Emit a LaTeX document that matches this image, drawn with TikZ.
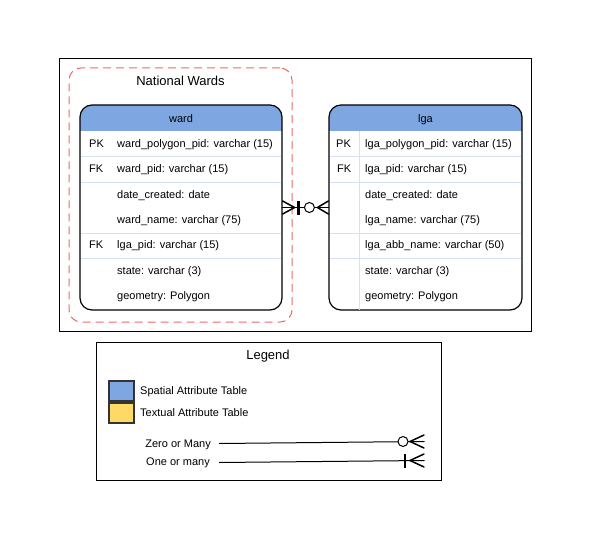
\documentclass[tikz,border=0pt]{standalone}
\usepackage{fontspec}
\setmainfont{Liberation Sans}
\usetikzlibrary{calc}
\definecolor{hdr}{HTML}{7EA6E0}
\definecolor{yel}{HTML}{FFD966}
\definecolor{grp}{HTML}{EA6B66}
\definecolor{sepc}{HTML}{D4E1F5}
\begin{document}
\begin{tikzpicture}[x=1pt,y=-1pt,
  font=\fontsize{11}{13}\selectfont,
  tbl/.style={draw=black, line width=1.2pt, fill=white, rounded corners=12pt, inner sep=0pt, minimum height=205pt,
    path picture={\fill[hdr, sharp corners] (path picture bounding box.north west) rectangle ($(path picture bounding box.north east)+(0,26)$);}},
  txt/.style={inner sep=0pt, anchor=base west},
  ctxt/.style={inner sep=0pt, anchor=base},
  rtxt/.style={inner sep=0pt, anchor=base east},
  sepl/.style={draw=sepc, line width=0.8pt},
  crowl/.style={line width=1.5pt, line cap=round},
  barl/.style={line width=2.8pt},
  rel/.style={line width=1pt},
  titletxt/.style={inner sep=0pt, anchor=base, font=\fontsize{13}{15}\selectfont},
  swatch/.style={draw=black!80, line width=1.2pt, minimum width=25pt, minimum height=20pt, inner sep=0pt}]
\useasboundingbox (0,0) rectangle (591,540);
\node[draw, line width=0.8pt, minimum width=472pt, minimum height=273pt, inner sep=0pt] (outer) at (295,194.5) {};
\node[draw=grp, line width=1pt, dash pattern=on 8pt off 5pt, rounded corners=12pt, minimum width=223pt, minimum height=254pt, inner sep=0pt] (grp) at (180.5,195) {};
\node[titletxt] (grptitle) at (180.5,85.4) {National Wards};

% ward table
\node[tbl, minimum width=202pt] (ward) at (181,207.5) {};
\node[ctxt] (wardh) at (181,122.3) {ward};
\foreach \yy in {156.5,182,233,258} \draw[sepl] (81,\yy) -- (281,\yy);
\node[txt] (w1k) at (89,147.5) {PK};
\node[txt] (w1) at (117,147.5) {ward\_polygon\_pid: varchar (15)};
\node[txt] (w2k) at (89,172.8) {FK};
\node[txt] (w2) at (117,172.8) {ward\_pid: varchar (15)};
\node[txt] (w3) at (117,198.2) {date\_created: date};
\node[txt] (w4) at (117,223.5) {ward\_name: varchar (75)};
\node[txt] (w5k) at (89,248.8) {FK};
\node[txt] (w5) at (117,248.8) {lga\_pid: varchar (15)};
\node[txt] (w6) at (117,274.2) {state: varchar (3)};
\node[txt] (w7) at (117,299.5) {geometry: Polygon};

% lga table
\node[tbl, minimum width=193pt] (lga) at (425.5,207.5) {};
\node[ctxt] (lgah) at (425.5,122.3) {lga};
\foreach \yy in {156.5,182,233,258} \draw[sepl] (330,\yy) -- (521,\yy);
\draw[sepl] (359,131.5) -- (359,309.5);
\node[txt] (l1k) at (336,147.5) {PK};
\node[txt] (l1) at (365,147.5) {lga\_polygon\_pid: varchar (15)};
\node[txt] (l2k) at (337,172.8) {FK};
\node[txt] (l2) at (365,172.8) {lga\_pid: varchar (15)};
\node[txt] (l3) at (365,198.2) {date\_created: date};
\node[txt] (l4) at (365,223.5) {lga\_name: varchar (75)};
\node[txt] (l5) at (365,248.8) {lga\_abb\_name: varchar (50)};
\node[txt] (l6) at (365,274.2) {state: varchar (3)};
\node[txt] (l7) at (365,299.5) {geometry: Polygon};

% relation
\draw[rel] (ward.east) -- (lga.west);
\draw[crowl] ($(ward.east)+(0,-6.5)$) -- ($(ward.east)+(12,0)$) -- ($(ward.east)+(0,6.5)$);
\draw[crowl] (ward.east) -- ($(ward.east)+(12,0)$);
\draw[barl] ($(ward.east)+(16,-7)$) -- ($(ward.east)+(16,7)$);
\draw[rel, fill=white] ($(lga.west)+(-19,0)$) circle (5);
\draw[crowl] ($(lga.west)+(0,-6.5)$) -- ($(lga.west)+(-11,0)$) -- ($(lga.west)+(0,6.5)$);
\draw[crowl] (lga.west) -- ($(lga.west)+(-11,0)$);

% legend
\node[draw, line width=0.8pt, minimum width=345pt, minimum height=138pt, inner sep=0pt] (legend) at (268.5,411) {};
\node[titletxt] (legt) at (268,359.7) {Legend};
\node[swatch, fill=hdr] (sw1) at (121.5,391) {};
\node[swatch, fill=yel] (sw2) at (121.5,413) {};
\node[txt] (sw1t) at (140,394.7) {Spatial Attribute Table};
\node[txt] (sw2t) at (140,416.2) {Textual Attribute Table};
\node[rtxt] (zt) at (211,447) {Zero or Many};
\node[rtxt] (ot) at (210,465.7) {One or many};
\coordinate (z0) at (219,443.5);
\coordinate (z1) at (424,441.5);
\coordinate (o0) at (219,462.5);
\coordinate (o1) at (424,460.5);
\draw[rel] (z0) -- (z1);
\draw[rel, fill=white] ($(z1)+(-21,0)$) circle (5);
\draw[crowl] ($(z1)+(0,-6.5)$) -- ($(z1)+(-14,0)$) -- ($(z1)+(0,6.5)$);
\draw[crowl] (z1) -- ($(z1)+(-14,0)$);
\draw[rel] (o0) -- (o1);
\draw[barl] ($(o1)+(-19,-7)$) -- ($(o1)+(-19,7)$);
\draw[crowl] ($(o1)+(0,-6.5)$) -- ($(o1)+(-14,0)$) -- ($(o1)+(0,6.5)$);
\draw[crowl] (o1) -- ($(o1)+(-14,0)$);
\end{tikzpicture}
\end{document}
